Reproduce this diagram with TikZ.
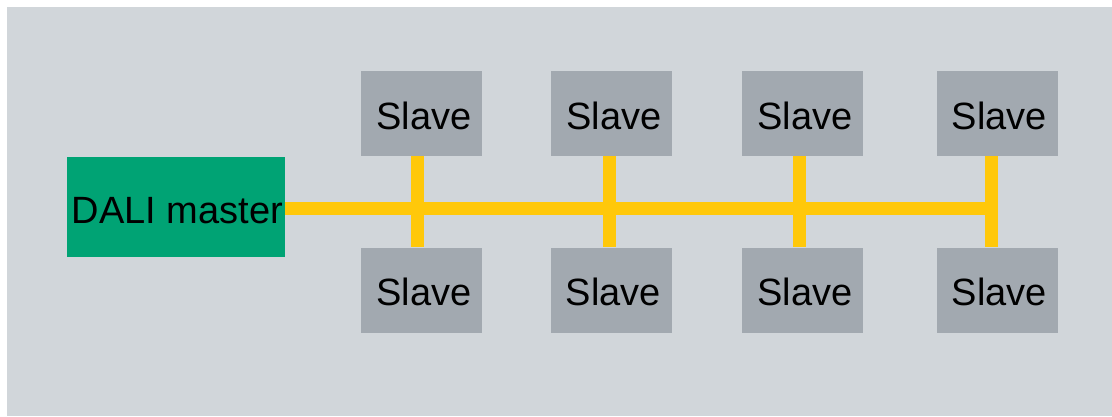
\documentclass[tikz,border=0pt]{standalone}
\usepackage{fontspec}
\setmainfont{Liberation Sans}
\definecolor{panel}{HTML}{D1D6DA}
\definecolor{slavegray}{HTML}{A2A9B0}
\definecolor{mastergreen}{HTML}{00A374}
\definecolor{busyellow}{HTML}{FFC80A}
\newcommand{\slavelabel}{\hspace{5pt}\raisebox{-4pt}{Slave}}
\begin{document}
\begin{tikzpicture}[x=1pt,y=-1pt,
  slavebox/.style={fill=slavegray,draw=none,minimum width=121pt,minimum height=85pt,inner sep=0pt,
    font=\fontsize{38}{40}\selectfont,text depth=0pt},
  masterbox/.style={fill=mastergreen,draw=none,minimum width=218pt,minimum height=100pt,inner sep=0pt,
    font=\fontsize{38}{40}\selectfont,text height=27pt,text depth=0pt},
  bus/.style={draw=busyellow,line width=13pt}]
  \useasboundingbox (0,0) rectangle (1112,416);
  % panel
  \fill[panel] (7,7) rectangle (1112,416);
  % master
  \node[masterbox] (master) at (176,207) {\hspace{3pt}\raisebox{-3pt}{DALI master}};
  % slaves, top and bottom rows
  \node[slavebox] (t1) at (421.5,113.5) {\slavelabel};
  \node[slavebox] (t2) at (611.5,113.5) {\slavelabel};
  \node[slavebox] (t3) at (802.5,113.5) {\slavelabel};
  \node[slavebox] (t4) at (997,113.5) {\slavelabel};
  \node[slavebox] (b1) at (421.5,290) {\slavelabel};
  \node[slavebox] (b2) at (611,290) {\slavelabel};
  \node[slavebox] (b3) at (802.5,290) {\slavelabel};
  \node[slavebox] (b4) at (997,290) {\slavelabel};
  % bus junctions
  \coordinate (j1) at (417,208);
  \coordinate (j2) at (609,208);
  \coordinate (j3) at (799,208);
  \coordinate (j4) at (991,208);
  % bus lines
  \draw[bus] (master.east |- j1) -- (j4);
  \draw[bus] (j1 |- t1.south) -- (j1 |- b1.north);
  \draw[bus] (j2 |- t2.south) -- (j2 |- b2.north);
  \draw[bus] (j3 |- t3.south) -- (j3 |- b3.north);
  \draw[bus] (j4 |- t4.south) -- (j4 |- b4.north);
\end{tikzpicture}
\end{document}
